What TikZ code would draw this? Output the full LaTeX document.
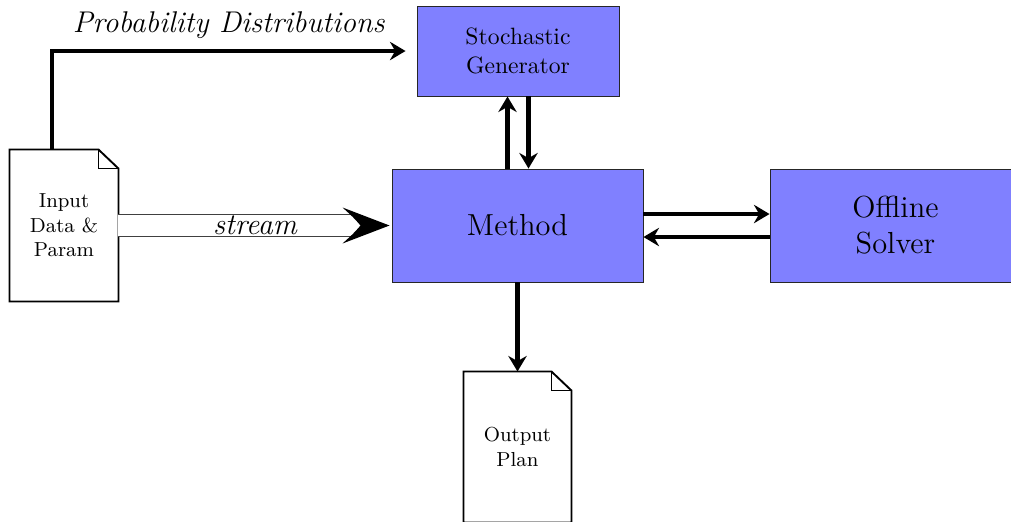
\documentclass[tikz,border=0pt]{standalone}
\usetikzlibrary{calc,arrows.meta}
\newcommand\pxu{0.4237pt}
\begin{document}
\begin{tikzpicture}[x=0.4237pt,y=-0.4237pt,
  box/.style={draw=black!85, fill=blue!50, inner sep=0pt, align=center},
  doc/.style={inner sep=0pt, align=center, font=\fontsize{8.6}{10.4}\selectfont},
  docline/.style={thick, line join=miter},
  conn/.style={line width=2pt, -{Stealth[length=6.6pt, width=7.8pt, inset=2.2pt]}},
  bigfont/.style={font=\fontsize{12.9}{15.2}\selectfont},
  itfont/.style={font=\fontsize{12.7}{15}\selectfont\itshape}
]
\useasboundingbox (0,0) rectangle (1011,522);

% nodes
\node[box, minimum width=202*\pxu, minimum height=90*\pxu] (sg) at (518,51) {Stochastic\\Generator};
\node[box, bigfont, minimum width=251*\pxu, minimum height=113*\pxu] (method) at (517.5,225.5) {Method};
\node[box, bigfont, minimum width=251*\pxu, minimum height=113*\pxu] (solver) at (895.5,225.5) {Offline\\Solver};
\node[doc, minimum width=108*\pxu, minimum height=151*\pxu] (in) at (64,225.5) {Input\\Data \&\\Param};
\node[doc, minimum width=107*\pxu, minimum height=150*\pxu] (out) at (517.5,447) {Output\\Plan};

% document outlines
\foreach \d in {in,out}{
  \draw[docline] (\d.north west) -- ($(\d.north east)+(-20,0)$) -- ($(\d.north east)+(0,19)$)
     -- (\d.south east) -- (\d.south west) -- cycle;
  \draw[docline] ($(\d.north east)+(-20,0)$) |- ($(\d.north east)+(0,19)$);
}

% helper coordinates
\coordinate (mup) at ($(method.north)+(-10,0)$);
\coordinate (mdn) at ($(method.north)+(11,0)$);
\coordinate (mto) at ($(method.east)+(0,-11.5)$);
\coordinate (mfr) at ($(method.east)+(0,11.5)$);
\coordinate (pstart) at ($(in.north)+(-12,0)$);
\coordinate (pend) at ($(sg.west)+(-11,0)$);

% probability distributions
\draw[conn] (pstart) |- (pend)
  node[pos=0.75, above=1pt, itfont] {Probability Distributions};

% stochastic generator arrows
\draw[conn] (mup) -- (mup |- sg.south);
\draw[conn] (mdn |- sg.south) -- (mdn);

% solver arrows
\draw[conn] (mto) -- (mto -| solver.west);
\draw[conn] (mfr -| solver.west) -- (mfr);

% output
\draw[conn] (method.south) -- (out.north);

% stream
\draw[line width=0.5pt, draw=black!75, double=white, double distance=21*\pxu]
  (in.east) -- ($(method.west)+(-40,0)$);
\fill ($(method.west)+(-2,0)$) -- ($(method.west)+(-49,-18)$)
  .. controls ($(method.west)+(-38,-8)$) .. ($(method.west)+(-31,0)$)
  .. controls ($(method.west)+(-38,8)$) .. ($(method.west)+(-49,18)$) -- cycle;
\path (in.east) -- (method.west) node[midway, itfont] {stream};
\end{tikzpicture}
\end{document}
